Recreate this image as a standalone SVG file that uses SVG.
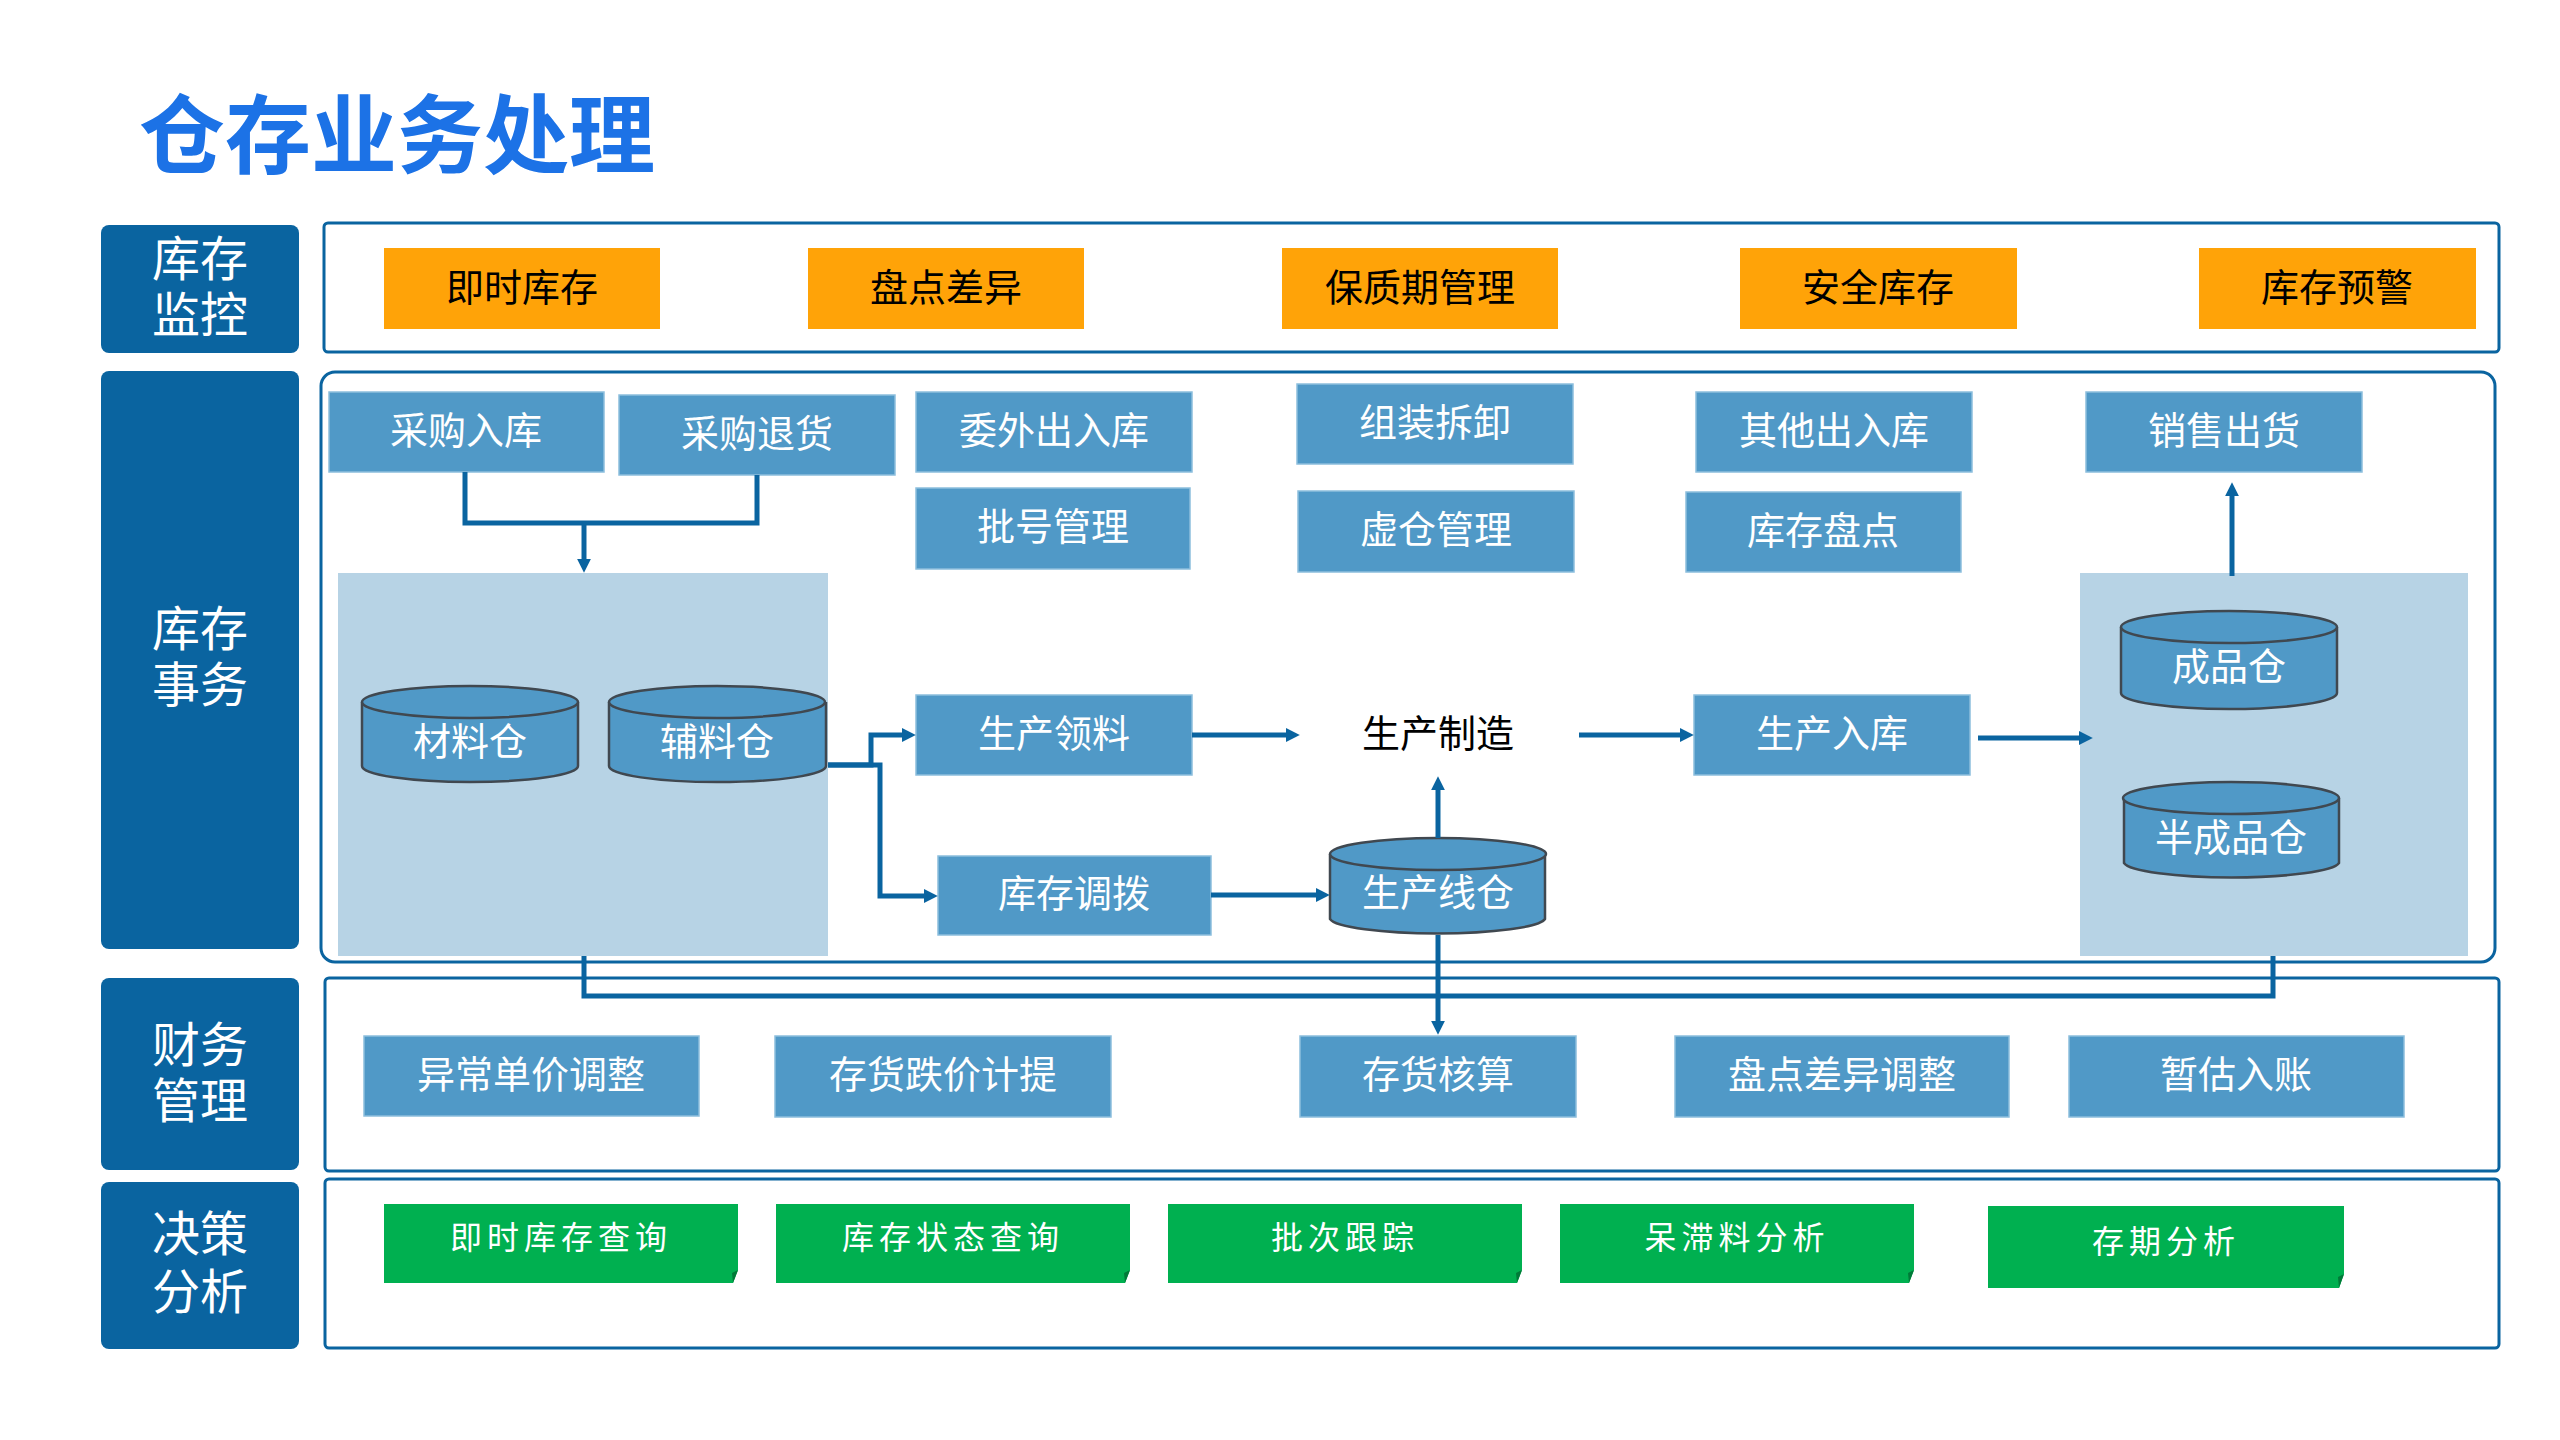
<svg xmlns="http://www.w3.org/2000/svg" width="2560" height="1440" viewBox="0 0 2560 1440">
<style>
text{font-family:"Noto Sans CJK SC","Noto Sans",sans-serif;text-anchor:middle;dominant-baseline:central}
.lab{fill:#0A64A0}
.labt{fill:#fff;font-size:48px}
.panel{fill:#fff;stroke:#0A64A0;stroke-width:3}
.org{fill:#FFA308}
.orgt{fill:#000;font-size:38px}
.blu{fill:#5099C7;stroke:#8CBEDD;stroke-width:1.5}
.blut{fill:#fff;font-size:38px}
.area{fill:#B7D3E5}
.cyl{fill:#5099C7;stroke:#404850;stroke-width:2.5}
.grn{fill:#00B050}
.fold{fill:#007A38}
.grnt{fill:#fff;font-size:32px;letter-spacing:5px}
.con{fill:none;stroke:#0A64A0;stroke-width:5}
</style>
<defs>
<marker id="arr" viewBox="0 0 10 10" refX="3" refY="5" markerWidth="14" markerHeight="14" markerUnits="userSpaceOnUse" orient="auto">
<path d="M0,0 L10,5 L0,10 z" fill="#0A64A0"/>
</marker>
</defs>
<rect width="2560" height="1440" fill="#fff"/>
<text id="title" x="139" y="129" style="text-anchor:start;font-size:86px;font-weight:bold;fill:#1C72E6">仓存业务处理</text>

<!-- row labels -->
<g id="lab-monitor"><rect class="lab" x="101" y="225" width="198" height="128" rx="8"/><text class="labt"><tspan x="200" y="255">库存</tspan><tspan x="200" y="311">监控</tspan></text></g>
<g id="lab-affairs"><rect class="lab" x="101" y="371" width="198" height="578" rx="8"/><text class="labt"><tspan x="200" y="625">库存</tspan><tspan x="200" y="681">事务</tspan></text></g>
<g id="lab-finance"><rect class="lab" x="101" y="978" width="198" height="192" rx="8"/><text class="labt"><tspan x="200" y="1041">财务</tspan><tspan x="200" y="1097">管理</tspan></text></g>
<g id="lab-decision"><rect class="lab" x="101" y="1182" width="198" height="167" rx="8"/><text class="labt"><tspan x="200" y="1230">决策</tspan><tspan x="200" y="1288">分析</tspan></text></g>

<!-- panels -->
<rect id="panel-monitor" class="panel" x="324" y="223" width="2175" height="129" rx="4"/>
<rect id="panel-affairs" class="panel" x="321" y="372" width="2174" height="590" rx="14"/>
<rect id="panel-finance" class="panel" x="325" y="978" width="2174" height="193" rx="4"/>
<rect id="panel-decision" class="panel" x="325" y="1179" width="2174" height="169" rx="4"/>

<!-- monitor items -->
<g id="m1"><rect class="org" x="384" y="248" width="276" height="81"/><text class="orgt" x="522" y="284">即时库存</text></g>
<g id="m2"><rect class="org" x="808" y="248" width="276" height="81"/><text class="orgt" x="946" y="284">盘点差异</text></g>
<g id="m3"><rect class="org" x="1282" y="248" width="276" height="81"/><text class="orgt" x="1420" y="284">保质期管理</text></g>
<g id="m4"><rect class="org" x="1740" y="248" width="277" height="81"/><text class="orgt" x="1878" y="284">安全库存</text></g>
<g id="m5"><rect class="org" x="2199" y="248" width="277" height="81"/><text class="orgt" x="2337" y="284">库存预警</text></g>

<!-- areas -->
<rect id="area-material" class="area" x="338" y="573" width="490" height="383"/>
<rect id="area-product" class="area" x="2080" y="573" width="388" height="383"/>

<!-- affairs boxes -->
<g id="b-cgrk"><rect class="blu" x="329" y="392" width="275" height="80"/><text class="blut" x="466" y="427">采购入库</text></g>
<g id="b-cgth"><rect class="blu" x="619" y="395" width="276" height="80"/><text class="blut" x="757" y="430">采购退货</text></g>
<g id="b-wwcrk"><rect class="blu" x="916" y="392" width="276" height="80"/><text class="blut" x="1054" y="427">委外出入库</text></g>
<g id="b-phgl"><rect class="blu" x="916" y="488" width="274" height="81"/><text class="blut" x="1053" y="523">批号管理</text></g>
<g id="b-zzcx"><rect class="blu" x="1297" y="384" width="276" height="80"/><text class="blut" x="1435" y="419">组装拆卸</text></g>
<g id="b-xcgl"><rect class="blu" x="1298" y="491" width="276" height="81"/><text class="blut" x="1436" y="526">虚仓管理</text></g>
<g id="b-qtcrk"><rect class="blu" x="1696" y="392" width="276" height="80"/><text class="blut" x="1834" y="427">其他出入库</text></g>
<g id="b-kcpd"><rect class="blu" x="1686" y="492" width="275" height="80"/><text class="blut" x="1823" y="527">库存盘点</text></g>
<g id="b-xsch"><rect class="blu" x="2086" y="392" width="276" height="80"/><text class="blut" x="2224" y="427">销售出货</text></g>
<g id="b-scll"><rect class="blu" x="916" y="695" width="276" height="80"/><text class="blut" x="1054" y="730">生产领料</text></g>
<g id="b-kcdb"><rect class="blu" x="938" y="856" width="273" height="79"/><text class="blut" x="1074" y="890">库存调拨</text></g>
<g id="b-scrk"><rect class="blu" x="1694" y="695" width="276" height="80"/><text class="blut" x="1832" y="730">生产入库</text></g>
<g id="t-sczz"><text x="1438" y="730" style="font-size:38px;fill:#000">生产制造</text></g>

<!-- cylinders -->
<g id="c-clc"><path class="cyl" d="M362,702 V766 A108,16 0 0 0 578,766 V702"/><ellipse class="cyl" cx="470" cy="702" rx="108" ry="16"/><text class="blut" x="470" y="738">材料仓</text></g>
<g id="c-flc"><path class="cyl" d="M609,702 V766 A108,16 0 0 0 826,766 V702"/><ellipse class="cyl" cx="717" cy="702" rx="108" ry="16"/><text class="blut" x="717" y="738">辅料仓</text></g>
<g id="c-cpc"><path class="cyl" d="M2121,627 V693 A108,16 0 0 0 2337,693 V627"/><ellipse class="cyl" cx="2229" cy="627" rx="108" ry="16"/><text class="blut" x="2229" y="663">成品仓</text></g>
<g id="c-bcpc"><path class="cyl" d="M2124,798 V863 A108,16 0 0 0 2339,863 V798"/><ellipse class="cyl" cx="2231" cy="798" rx="108" ry="16"/><text class="blut" x="2231" y="834">半成品仓</text></g>
<g id="c-scxc"><path class="cyl" d="M1330,854 V919 A108,16 0 0 0 1545,919 V854"/><ellipse class="cyl" cx="1438" cy="854" rx="108" ry="16"/><text class="blut" x="1438" y="889">生产线仓</text></g>

<!-- finance boxes -->
<g id="f1"><rect class="blu" x="364" y="1036" width="335" height="80"/><text class="blut" x="531" y="1071">异常单价调整</text></g>
<g id="f2"><rect class="blu" x="775" y="1036" width="336" height="81"/><text class="blut" x="943" y="1071">存货跌价计提</text></g>
<g id="f3"><rect class="blu" x="1300" y="1036" width="276" height="81"/><text class="blut" x="1438" y="1071">存货核算</text></g>
<g id="f4"><rect class="blu" x="1675" y="1036" width="334" height="81"/><text class="blut" x="1842" y="1071">盘点差异调整</text></g>
<g id="f5"><rect class="blu" x="2069" y="1036" width="335" height="81"/><text class="blut" x="2236" y="1071">暂估入账</text></g>

<!-- decision boxes -->
<g id="d1"><path class="grn" d="M384,1204 H738 V1270 L733,1283 H384 Z"/><path class="fold" d="M738,1270 L733,1283 L732,1273 Z"/><text class="grnt" x="561" y="1235">即时库存查询</text></g>
<g id="d2"><path class="grn" d="M776,1204 H1130 V1270 L1125,1283 H776 Z"/><path class="fold" d="M1130,1270 L1125,1283 L1124,1273 Z"/><text class="grnt" x="953" y="1235">库存状态查询</text></g>
<g id="d3"><path class="grn" d="M1168,1204 H1522 V1270 L1517,1283 H1168 Z"/><path class="fold" d="M1522,1270 L1517,1283 L1516,1273 Z"/><text class="grnt" x="1345" y="1235">批次跟踪</text></g>
<g id="d4"><path class="grn" d="M1560,1204 H1914 V1270 L1909,1283 H1560 Z"/><path class="fold" d="M1914,1270 L1909,1283 L1908,1273 Z"/><text class="grnt" x="1737" y="1235">呆滞料分析</text></g>
<g id="d5"><path class="grn" d="M1988,1206 H2344 V1274 L2339,1288 H1988 Z"/><path class="fold" d="M2344,1274 L2339,1288 L2338,1277 Z"/><text class="grnt" x="2166" y="1239">存期分析</text></g>

<!-- connectors -->
<g id="connectors" class="con">
<path d="M465,472 V523 H757 V475"/>
<path d="M584,523 V563" marker-end="url(#arr)"/>
<path d="M828,765 H871 V735 H906" marker-end="url(#arr)"/>
<path d="M828,765 H880 V896 H928" marker-end="url(#arr)"/>
<path d="M1192,735 H1290" marker-end="url(#arr)"/>
<path d="M1579,735 H1684" marker-end="url(#arr)"/>
<path d="M1978,738 H2083" marker-end="url(#arr)"/>
<path d="M2232,576 V492" marker-end="url(#arr)"/>
<path d="M1211,895 H1320" marker-end="url(#arr)"/>
<path d="M1438,838 V786" marker-end="url(#arr)"/>
<path d="M1438,935 V1025" marker-end="url(#arr)"/>
<path d="M584,956 V996 H2273 V956"/>
</g>
</svg>
